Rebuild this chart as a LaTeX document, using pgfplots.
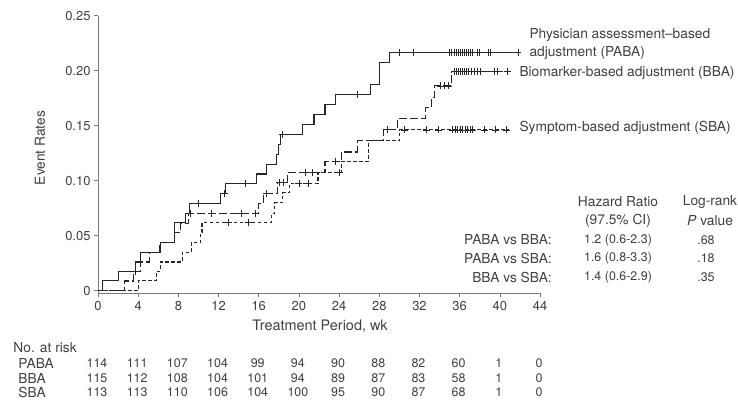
\documentclass[border=0pt]{standalone}
\usepackage{pgfplots}
\pgfplotsset{compat=1.18}
\usepackage{fontspec}
\setmainfont{TeX Gyre Heros}
\definecolor{txt}{HTML}{404040}
\definecolor{ln}{HTML}{262626}
\definecolor{axc}{HTML}{7A7A7A}
\newcommand\lbl{\fontsize{13.8}{16}\selectfont}
\newcommand\num{\fontsize{12.5}{14}\selectfont}

\begin{document}
\begin{tikzpicture}[x=1bp,y=1bp]
\begin{axis}[
    at={(98bp,106.7bp)}, anchor=south west,
    scale only axis, width=442bp, height=277.75bp,
    xmin=0, xmax=44, ymin=-0.0025, ymax=0.25,
    axis x line*=bottom, axis y line*=left,
    axis line style={axc, line width=0.6bp},
    tick pos=left, tick align=outside,
    major tick length=4bp,
    tick style={axc, line width=0.6bp},
    xtick={0,4,8,12,16,20,24,28,32,36,40,44},
    xticklabels={0,4,8,12,16,20,24,28,32,36,40,44},
    ytick={0,0.05,0.10,0.15,0.20,0.25},
    yticklabels={0,0.05,0.10,0.15,0.20,0.25},
    ticklabel style={font=\fontsize{13}{15}\selectfont, text=txt},
    clip=false,
]
% PABA
\addplot[const plot, ln, line width=1.1bp] coordinates {
    (0,0) (0.47,0.0088) (2.0,0.0177) (3.75,0.026) (4.25,0.035) (6.2,0.044)
    (7.6,0.0615) (8.75,0.070) (9.1,0.079) (12.15,0.088) (12.7,0.097)
    (15.8,0.106) (16.8,0.115) (17.8,0.124) (18.0,0.133) (18.2,0.142)
    (20.4,0.151) (21.5,0.160) (22.6,0.169) (23.65,0.178) (27.1,0.187)
    (28.06,0.207) (29.0,0.2165) (41.8,0.2165)
};
% BBA
\addplot[const plot, ln, line width=1.1bp, dash pattern=on 8bp off 3bp] coordinates {
    (0,0) (2.6,0.0087) (3.5,0.0175) (4.2,0.026) (5.1,0.035) (6.1,0.044)
    (7.6,0.053) (8.2,0.061) (9.05,0.070) (15.95,0.079) (16.45,0.088)
    (17.9,0.098) (18.9,0.107) (22.6,0.117) (24.25,0.126) (25.8,0.136)
    (28.4,0.1465) (29.8,0.1565) (32.6,0.1665) (33.2,0.1756) (33.5,0.186)
    (35.2,0.199) (40.8,0.199)
};
% SBA
\addplot[const plot, ln, line width=1.1bp, dash pattern=on 3.5bp off 2.5bp] coordinates {
    (0,0) (4.0,0.0088) (5.8,0.0177) (6.2,0.026) (8.4,0.035) (9.3,0.044)
    (10.2,0.053) (10.35,0.062) (17.3,0.070) (17.6,0.080) (18.4,0.089)
    (19.1,0.0975) (21.9,0.107) (24.2,0.117) (26.9,0.136) (30.05,0.146)
    (40.9,0.146)
};
% censoring marks
\addplot[only marks, mark=+, mark size=3.5bp, ln, mark options={solid, line width=0.8bp}] coordinates {
    (3.7,0.0177) (10.0,0.079) (12.55,0.088) (14.7,0.097) (18.4,0.142)
    (25.8,0.178) (30.0,0.2165) (31.4,0.2165) (34.95,0.2165) (35.15,0.2165)
    (35.45,0.2165) (35.65,0.2165) (35.85,0.2165) (36.05,0.2165) (36.25,0.2165)
    (36.45,0.2165) (36.65,0.2165) (36.85,0.2165) (37.05,0.2165) (37.3,0.2165)
    (37.75,0.2165) (37.95,0.2165) (38.85,0.2165) (39.1,0.2165) (41.8,0.2165)
};
\addplot[only marks, mark=+, mark size=3.5bp, ln, mark options={solid, line width=0.8bp}] coordinates {
    (9.15,0.070) (11.25,0.070) (14.3,0.070) (15.7,0.070) (16.8,0.088)
    (18.1,0.098) (18.5,0.098) (20.6,0.107) (21.3,0.107) (23.6,0.117)
    (28.8,0.1465) (34.1,0.186) (34.5,0.186) (34.9,0.186)
    (35.5,0.199) (35.7,0.199) (35.9,0.199) (36.1,0.199) (36.3,0.199)
    (36.5,0.199) (36.7,0.199) (36.9,0.199) (37.2,0.199) (37.5,0.199)
    (37.8,0.199) (38.1,0.199) (39.5,0.199) (39.8,0.199) (40.8,0.199)
};
\addplot[only marks, mark=+, mark size=3.5bp, ln, mark options={solid, line width=0.8bp}] coordinates {
    (13.0,0.062) (14.95,0.062) (20.0,0.0975) (20.9,0.0975) (24.0,0.107)
    (30.5,0.146) (32.7,0.146) (33.9,0.146) (35.3,0.146) (35.55,0.146)
    (35.8,0.146) (36.05,0.146) (36.3,0.146) (36.55,0.146) (36.8,0.146)
    (37.05,0.146) (37.3,0.146) (38.5,0.146) (39.6,0.146) (40.7,0.146)
};
\end{axis}

\begin{scope}[every node/.style={text=txt, inner sep=0pt}]
\node[rotate=90, font=\lbl] at (40,252) {Event Rates};
\node[font=\fontsize{14.5}{16}\selectfont] at (320,74) {Treatment Period, wk};

\node[font=\lbl, anchor=west] at (529.3,365) {Physician assessment–based};
\node[font=\lbl, anchor=west] at (529.3,346.7) {adjustment (PABA)};
\node[font=\lbl, anchor=west] at (519.3,327.3) {Biomarker-based adjustment (BBA)};
\node[font=\lbl, anchor=west] at (519.3,271.7) {Symptom-based adjustment (SBA)};

\node[font=\lbl] at (618,198) {Hazard Ratio};
\node[font=\lbl] at (710,198) {Log-rank};
\node[font=\lbl] at (618,179.5) {(97.5\% CI)};
\node[font=\lbl] at (710,179.5) {\textit{P} value};
\node[font=\lbl, anchor=east] at (552,160) {PABA vs BBA:};
\node[font=\lbl, anchor=east] at (552,141.5) {PABA vs SBA:};
\node[font=\lbl, anchor=east] at (552,123) {BBA vs SBA:};
\node[font=\num] at (618,160) {1.2 (0.6-2.3)};
\node[font=\num] at (618,141.5) {1.6 (0.8-3.3)};
\node[font=\num] at (618,123) {1.4 (0.6-2.9)};
\node[font=\num] at (706,160) {.68};
\node[font=\num] at (706,141.5) {.18};
\node[font=\num] at (706,123) {.35};

\node[font=\lbl, anchor=west] at (13.3,52) {No. at risk};
\node[font=\lbl, anchor=west] at (18.3,37) {PABA};
\node[font=\lbl, anchor=west] at (18.3,22) {BBA};
\node[font=\lbl, anchor=west] at (18.3,7.5) {SBA};
\foreach \v [count=\i from 0] in {114,111,107,104,99,94,90,88,82,60,1,0}
  \node[font=\num] at ({97+40.18*\i},37) {\v};
\foreach \v [count=\i from 0] in {115,112,108,104,101,94,89,87,83,58,1,0}
  \node[font=\num] at ({97+40.18*\i},22) {\v};
\foreach \v [count=\i from 0] in {113,113,110,106,104,100,95,90,87,68,1,0}
  \node[font=\num] at ({97+40.18*\i},7.5) {\v};
\end{scope}

\pgfresetboundingbox
\path (0,0) rectangle (738,400);
\end{tikzpicture}
\end{document}
